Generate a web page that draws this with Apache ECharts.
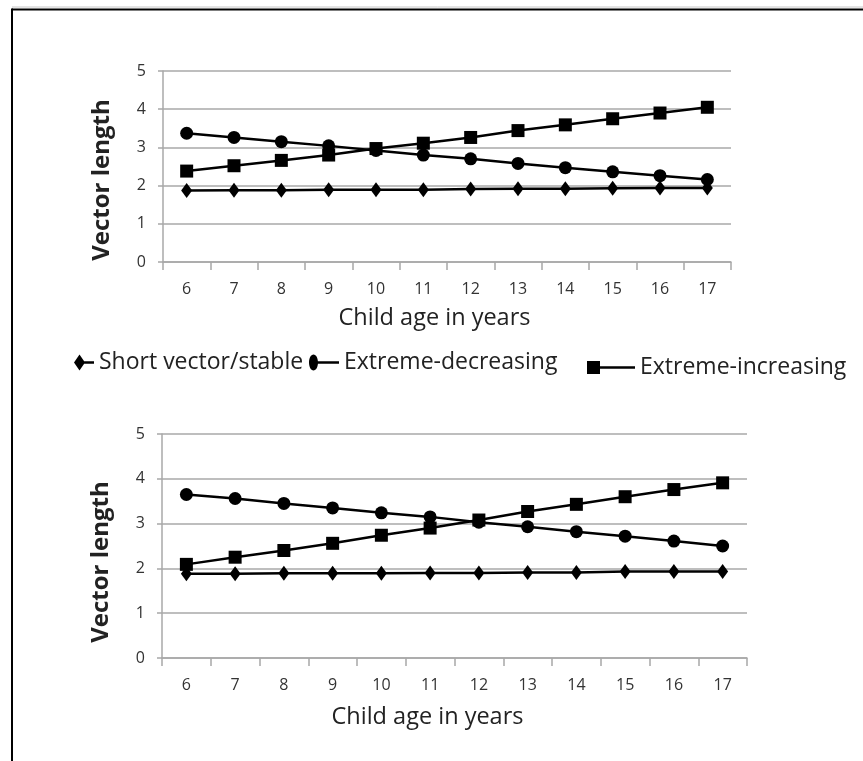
<!DOCTYPE html>
<html>
<head>
<meta charset="utf-8">
<script src="https://cdn.jsdelivr.net/npm/echarts@6/dist/echarts.min.js"></script>
<style>
html,body{margin:0;padding:0;background:#fff;}
#chart{width:863px;height:761px;}
</style>
</head>
<body>
<div id="chart"></div>
<script>
var ages = ['6','7','8','9','10','11','12','13','14','15','16','17'];
var yTicks = [0,1,2,3,4,5];
var seriesNames = ['Short vector/stable','Extreme-decreasing','Extreme-increasing'];

var topStable     = [1.87,1.88,1.88,1.89,1.89,1.89,1.91,1.92,1.92,1.93,1.94,1.94];
var topDecreasing = [3.37,3.26,3.15,3.04,2.92,2.80,2.70,2.58,2.47,2.36,2.26,2.16];
var topIncreasing = [2.38,2.52,2.66,2.80,2.97,3.11,3.26,3.44,3.59,3.75,3.90,4.05];

var botStable     = [1.88,1.88,1.89,1.89,1.89,1.90,1.90,1.91,1.91,1.93,1.93,1.93];
var botDecreasing = [3.65,3.56,3.45,3.35,3.24,3.15,3.03,2.93,2.82,2.72,2.61,2.50];
var botIncreasing = [2.09,2.25,2.40,2.56,2.74,2.90,3.08,3.27,3.43,3.60,3.76,3.91];

var FONT = 'Open Sans';
var gridGray = '#a8a8a8';

function xAxisCfg(gridIndex, gap, padRight){
  return {
    type:'category', gridIndex:gridIndex, data:ages, boundaryGap:true,
    name:'Child age in years', nameLocation:'middle', nameGap:gap,
    nameTextStyle:{fontFamily:FONT, fontSize:23.5, color:'#222', padding:[0,padRight,0,0]},
    axisLine:{show:true, lineStyle:{color:gridGray, width:1.5}},
    axisTick:{show:true, length:8, interval:0, lineStyle:{color:gridGray, width:1.5}},
    axisLabel:{interval:0, margin:19, fontFamily:FONT, fontSize:16, color:'#333'},
    splitLine:{show:false}
  };
}
function yAxisCfg(gridIndex, padRight){
  return {
    type:'value', gridIndex:gridIndex, min:yTicks[0], max:yTicks[yTicks.length-1], interval:1,
    name:'Vector length', nameLocation:'middle', nameGap:49,
    nameTextStyle:{fontFamily:FONT, fontSize:24, fontWeight:'bold', color:'#222', padding:[0,padRight,0,0]},
    axisLine:{show:true, lineStyle:{color:gridGray, width:1.5}},
    axisTick:{show:true, length:5, lineStyle:{color:gridGray, width:1.5}},
    axisLabel:{margin:17, fontFamily:FONT, fontSize:16, color:'#333'},
    splitLine:{show:true, lineStyle:{color:gridGray, width:1.5}}
  };
}
var symbols = [
  {symbol:'diamond', size:[11,15]},
  {symbol:'circle', size:13},
  {symbol:'rect', size:13}
];
function mkSeries(name, idx, data, gi){
  return {
    type:'line', name:name, xAxisIndex:gi, yAxisIndex:gi, data:data,
    symbol:symbols[idx].symbol, symbolSize:symbols[idx].size, showAllSymbol:true,
    lineStyle:{color:'#000', width:2.5},
    itemStyle:{color:'#000', borderWidth:0},
    emphasis:{disabled:true}, animation:false, z:2+idx
  };
}
function mkLegend(name, icon, w, h, left, top){
  return {
    data:[name], icon:icon, itemWidth:w, itemHeight:h, left:left, top:top,
    padding:0, selectedMode:false, itemStyle:{color:'#000', borderWidth:0},
    textStyle:{fontFamily:FONT, fontSize:23, color:'#222'}
  };
}

var chart = echarts.init(document.getElementById('chart'), null, {renderer:'canvas'});
chart.setOption({
  backgroundColor:'#fff',
  animation:false,
  grid:[
    {left:163, right:132, top:71, bottom:499},
    {left:162, right:116, top:434, bottom:103}
  ],
  xAxis:[xAxisCfg(0, 44, 25), xAxisCfg(1, 47, 54)],
  yAxis:[yAxisCfg(0, 27), yAxisCfg(1, 32)],
  legend:[
    mkLegend(seriesNames[0], 'path://M5.5,0 L11,8 L5.5,16 L0,8 Z M10,6.8 L20,6.8 L20,9.2 L10,9.2 Z', 20, 16, 74, 351),
    mkLegend(seriesNames[1], 'path://M4.5,0 C7,0 9,3.6 9,8 C9,12.4 7,16 4.5,16 C2,16 0,12.4 0,8 C0,3.6 2,0 4.5,0 Z M8,6.8 L30,6.8 L30,9.2 L8,9.2 Z', 30, 16, 309, 351),
    mkLegend(seriesNames[2], 'path://M0,0 L13,0 L13,13 L0,13 Z M12,5.3 L48,5.3 L48,7.7 L12,7.7 Z', 48, 13, 587, 356)
  ],
  series:[
    mkSeries(seriesNames[0], 0, topStable, 0),
    mkSeries(seriesNames[1], 1, topDecreasing, 0),
    mkSeries(seriesNames[2], 2, topIncreasing, 0),
    mkSeries(seriesNames[0], 0, botStable, 1),
    mkSeries(seriesNames[1], 1, botDecreasing, 1),
    mkSeries(seriesNames[2], 2, botIncreasing, 1)
  ],
  graphic:[
    {type:'line', shape:{x1:12, y1:7, x2:863, y2:7}, style:{stroke:'#c8c8c8', lineWidth:1}, silent:true},
    {type:'line', shape:{x1:12, y1:9.5, x2:863, y2:9.5}, style:{stroke:'#000', lineWidth:2}, silent:true},
    {type:'line', shape:{x1:12, y1:8.5, x2:12, y2:761}, style:{stroke:'#000', lineWidth:2}, silent:true}
  ]
});
</script>
</body>
</html>
